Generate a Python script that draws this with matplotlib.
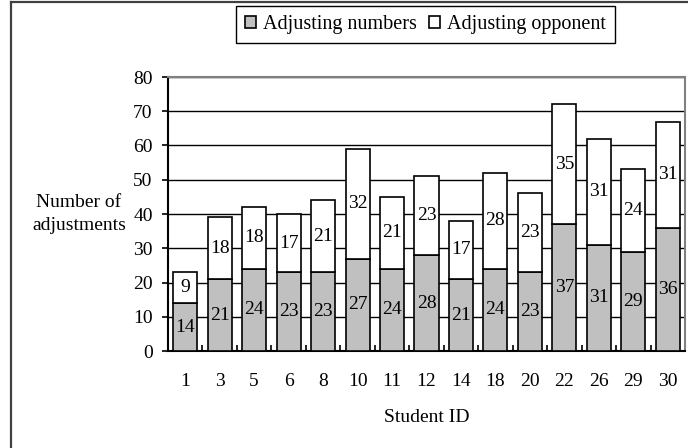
import matplotlib
matplotlib.use("Agg")
import matplotlib.pyplot as plt
from matplotlib.lines import Line2D

students = ["1", "3", "5", "6", "8", "10", "11", "12", "14", "18", "20", "22", "26", "29", "30"]
adjusting_numbers = [14, 21, 24, 23, 23, 27, 24, 28, 21, 24, 23, 37, 31, 29, 36]
adjusting_opponent = [9, 18, 18, 17, 21, 32, 21, 23, 17, 28, 23, 35, 31, 24, 31]

plt.rcParams["font.family"] = ["Liberation Serif", "DejaVu Serif"]
FS = 14
plt.rcParams["font.size"] = FS

W, H = 688, 448
fig = plt.figure(figsize=(W / 100, H / 100), dpi=100)
L, R, T, B = 168, 685, 77, 351
ax = fig.add_axes([L / W, 1 - B / H, (R - L) / W, (B - T) / H])

x = list(range(len(students)))
width = 0.7
b1 = ax.bar(x, adjusting_numbers, width, color="#c0c0c0", edgecolor="black",
            linewidth=1.2, label="Adjusting numbers", zorder=3)
b2 = ax.bar(x, adjusting_opponent, width, bottom=adjusting_numbers, color="white",
            edgecolor="black", linewidth=1.2, label="Adjusting opponent", zorder=3)

for xi, lo, hi in zip(x, adjusting_numbers, adjusting_opponent):
    ax.text(xi, lo / 2, str(lo), ha="center", va="center", fontsize=FS, zorder=4)
    ax.text(xi, lo + hi / 2, str(hi), ha="center", va="center", fontsize=FS, zorder=4)

ax.set_xlim(-0.5, len(students) - 0.5)
ax.set_ylim(0, 80)
ax.set_yticks(range(0, 81, 10))
ax.yaxis.grid(True, color="black", linewidth=1.0, zorder=0)
ax.set_axisbelow(True)

# category labels centred under bars, small tick marks between categories
ax.set_xticks(x)
ax.set_xticklabels(students)
ax.tick_params(axis="x", which="major", length=0, pad=16)
ax.set_xticks([i + 0.5 for i in x[:-1]], minor=True)
ax.tick_params(axis="x", which="minor", direction="in", length=4, width=1.2)
ax.tick_params(axis="y", direction="out", length=4, width=1.2, pad=7)

for side in ("top", "right"):
    ax.spines[side].set_color("#808080")
    ax.spines[side].set_linewidth(1.5)
ax.spines["left"].set_linewidth(1.5)
ax.spines["bottom"].set_linewidth(1.5)

ax.set_xlabel("Student ID", va="center")
ax.xaxis.set_label_coords(0.5, -(417 - B) / (B - T))
fig.text(79 / W, 1 - 214 / H, "Number of\nadjustments", ha="center", va="center",
         fontsize=FS, linespacing=1.5)

fig.legend(handles=[b1, b2], loc="center", bbox_to_anchor=(425.5 / W, 1 - 24.5 / H),
           ncol=2, frameon=True, fancybox=False, edgecolor="black", framealpha=1,
           handlelength=0.55, handleheight=0.55, handletextpad=0.35, columnspacing=0.6,
           borderpad=0.45, fontsize=14.5)

# chart frame along the left and top edges
fig.add_artist(Line2D([11 / W, 11 / W], [0, 1 - 2.5 / H], transform=fig.transFigure,
                      color="#404040", linewidth=1.6))
fig.add_artist(Line2D([11 / W, 1], [1 - 2.5 / H, 1 - 2.5 / H], transform=fig.transFigure,
                      color="#404040", linewidth=1.6))

fig.savefig("out.png", dpi=100)
